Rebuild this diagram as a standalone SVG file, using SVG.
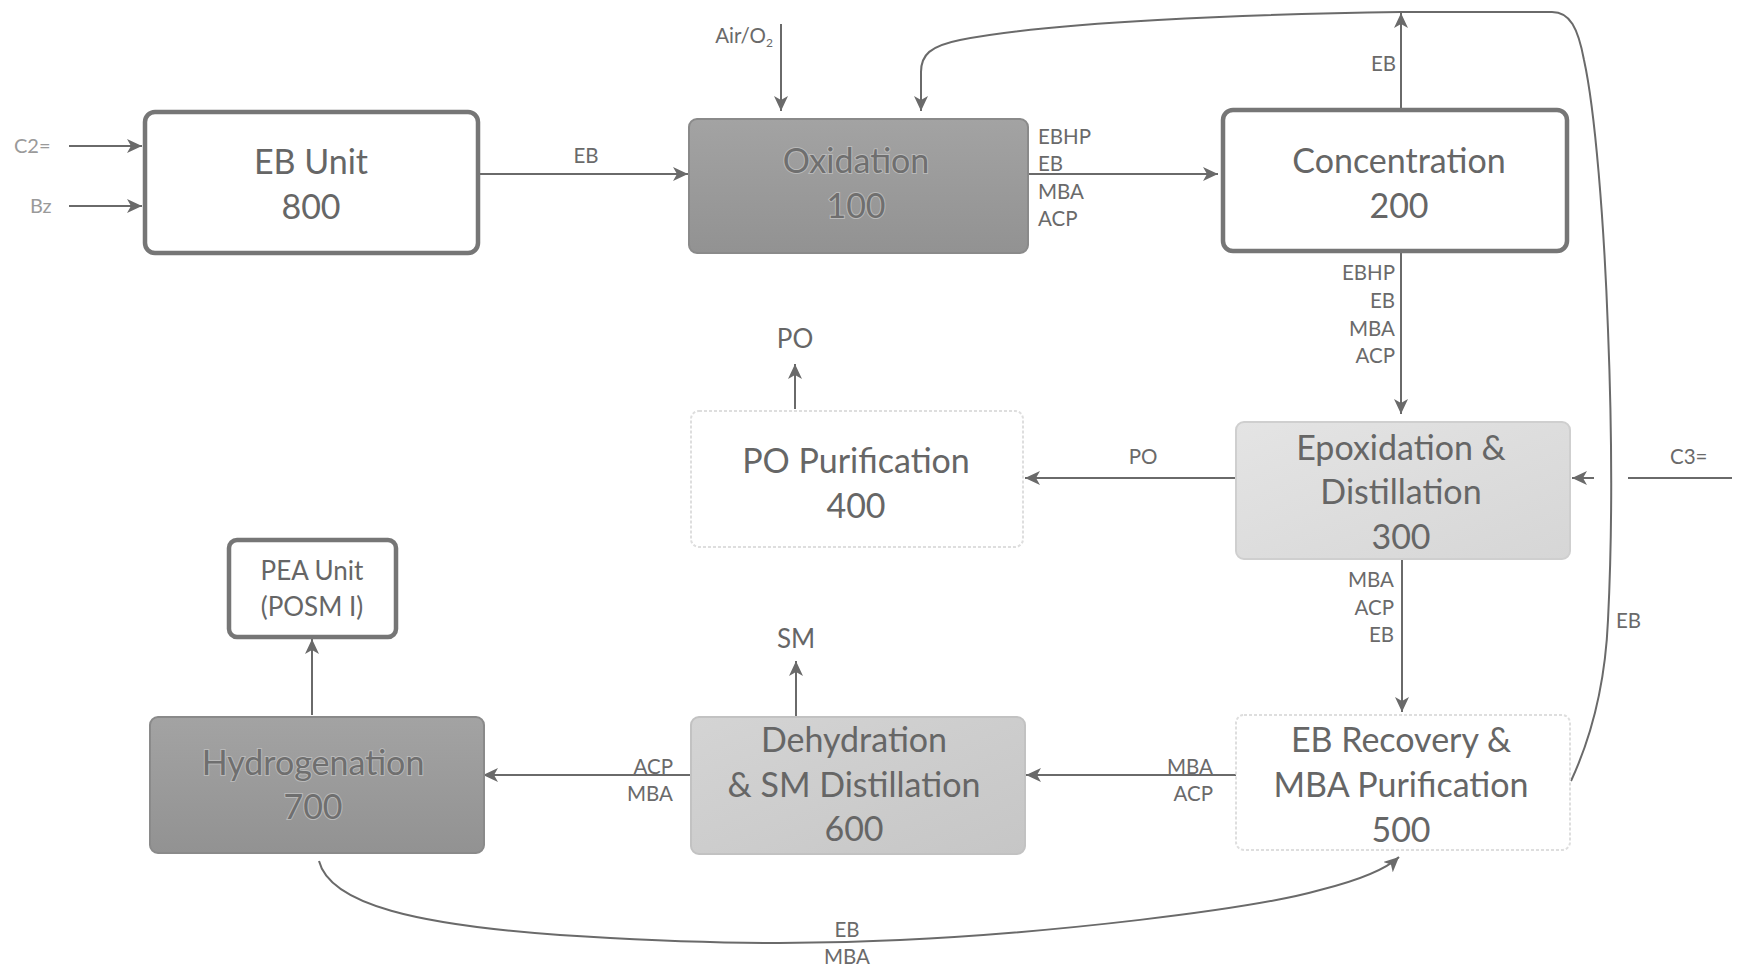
<svg xmlns="http://www.w3.org/2000/svg" width="1743" height="969" viewBox="0 0 1743 969">
<defs>
<marker id="arr" markerUnits="userSpaceOnUse" markerWidth="16" markerHeight="14" refX="15" refY="7" orient="auto">
<path d="M0,0 L15,7 L0,14 L4,7 z" fill="#6a6a6a"/>
</marker>
<linearGradient id="gDark" x1="0" y1="0" x2="0" y2="1">
<stop offset="0" stop-color="#a3a3a3"/><stop offset="1" stop-color="#929292"/>
</linearGradient>
<linearGradient id="gLight" x1="0" y1="0" x2="1" y2="1">
<stop offset="0" stop-color="#e4e4e4"/><stop offset="1" stop-color="#d6d6d6"/>
</linearGradient>
<linearGradient id="gMid" x1="0" y1="0" x2="1" y2="1">
<stop offset="0" stop-color="#d4d4d4"/><stop offset="1" stop-color="#c6c6c6"/>
</linearGradient>
<style>
.bw{fill:#fff;stroke:#767676;stroke-width:4.5}
.bf{fill:#fff;stroke:#dedede;stroke-width:2;stroke-dasharray:3 2}
.bd{fill:url(#gDark);stroke:#8a8a8a;stroke-width:2}
.bl{fill:url(#gLight);stroke:#cfcfcf;stroke-width:2}
.bm{fill:url(#gMid);stroke:#c2c2c2;stroke-width:2}
.t{font-family:Lato,"Open Sans",sans-serif;font-size:34px;fill:#666;text-anchor:middle}
.td{font-family:Lato,"Open Sans",sans-serif;font-size:34px;fill:#6f6f6f;text-anchor:middle;stroke:#b9b9b9;stroke-width:2;paint-order:stroke}
.ts{font-family:Lato,"Open Sans",sans-serif;font-size:26px;fill:#666;text-anchor:middle}
.l{font-family:Lato,"Open Sans",sans-serif;font-size:20.5px;fill:#6a6a6a}
.lb{font-family:Lato,"Open Sans",sans-serif;font-size:26px;fill:#666;text-anchor:middle}
.lf{font-family:Lato,"Open Sans",sans-serif;font-size:20px;fill:#9a9a9a}
.e{text-anchor:end}
.m{text-anchor:middle}
.c{fill:none;stroke:#6a6a6a;stroke-width:2}
.ca{fill:none;stroke:#6a6a6a;stroke-width:2;marker-end:url(#arr)}
</style>
</defs>
<rect width="1743" height="969" fill="#fff"/>

<g id="connectors">
<line class="ca" x1="69" y1="146" x2="142" y2="146"/>
<line class="ca" x1="69" y1="206" x2="142" y2="206"/>
<line class="ca" x1="478" y1="174" x2="688" y2="174"/>
<line class="ca" x1="781" y1="24" x2="781" y2="111"/>
<line class="ca" x1="1028" y1="174" x2="1218" y2="174"/>
<line class="ca" x1="1401" y1="109" x2="1401" y2="13"/>
<path class="c" d="M1571,781 C1590,740 1605,690 1608,620 C1612,540 1612,430 1608,330 C1604,220 1595,110 1584,60 C1578,28 1570,12 1552,12 L1401,12"/>
<path class="ca" d="M1401,12 C1250,14 1050,22 960,40 C930,46 921,55 921,72 L921,111"/>
<line class="ca" x1="1401" y1="251" x2="1401" y2="414"/>
<line class="c" x1="1732" y1="478" x2="1628" y2="478"/>
<line class="ca" x1="1594" y1="478" x2="1572" y2="478"/>
<line class="ca" x1="1236" y1="478" x2="1025" y2="478"/>
<line class="ca" x1="795" y1="409" x2="795" y2="364"/>
<line class="ca" x1="1402" y1="559" x2="1402" y2="712"/>
<line class="ca" x1="1236" y1="775" x2="1026" y2="775"/>
<line class="ca" x1="796" y1="717" x2="796" y2="661"/>
<line class="ca" x1="691" y1="775" x2="483" y2="775"/>
<line class="ca" x1="312" y1="715" x2="312" y2="639"/>
<path class="ca" d="M319,861 C330,905 420,925 560,935 C700,944 800,945 900,940 C1050,933 1250,910 1320,890 C1360,880 1385,870 1399,857"/>
</g>

<g id="n800">
<rect class="bw" x="145" y="112" width="333" height="141" rx="10"/>
<text class="t" x="311" y="174">EB Unit</text>
<text class="t" x="311" y="219">800</text>
</g>
<g id="n100">
<rect class="bd" x="689" y="119" width="339" height="134" rx="8"/>
<text class="td" x="856" y="173">Oxidation</text>
<text class="td" x="856" y="218">100</text>
</g>
<g id="n200">
<rect class="bw" x="1223" y="110" width="344" height="141" rx="10"/>
<text class="t" x="1399" y="173">Concentration</text>
<text class="t" x="1399" y="218">200</text>
</g>
<g id="n300">
<rect class="bl" x="1236" y="422" width="334" height="137" rx="8"/>
<text class="t" x="1401" y="460">Epoxidation &amp;</text>
<text class="t" x="1401" y="504">Distillation</text>
<text class="t" x="1401" y="549">300</text>
</g>
<g id="n400">
<rect class="bf" x="691" y="411" width="332" height="136" rx="8"/>
<text class="t" x="856" y="473">PO Purification</text>
<text class="t" x="856" y="518">400</text>
</g>
<g id="n500">
<rect class="bf" x="1236" y="715" width="334" height="135" rx="8"/>
<text class="t" x="1401" y="752">EB Recovery &amp;</text>
<text class="t" x="1401" y="797">MBA Purification</text>
<text class="t" x="1401" y="842">500</text>
</g>
<g id="n600">
<rect class="bm" x="691" y="717" width="334" height="137" rx="8"/>
<text class="t" x="854" y="752">Dehydration</text>
<text class="t" x="854" y="797">&amp; SM Distillation</text>
<text class="t" x="854" y="841">600</text>
</g>
<g id="n700">
<rect class="bd" x="150" y="717" width="334" height="136" rx="8"/>
<text class="td" x="313" y="775">Hydrogenation</text>
<text class="td" x="313" y="819">700</text>
</g>
<g id="nPEA">
<rect class="bw" x="229" y="540" width="167" height="97" rx="8"/>
<text class="ts" x="312" y="580">PEA Unit</text>
<text class="ts" x="312" y="616">(POSM I)</text>
</g>

<g id="labels">
<text class="lf" x="14" y="153">C2=</text>
<text class="lf" x="30" y="213">Bz</text>
<text class="l m" x="586" y="163">EB</text>
<text class="l e" x="773" y="43">Air/O<tspan style="font-size:12px" dy="4">2</tspan></text>
<text class="l" x="1038" y="144">EBHP</text>
<text class="l" x="1038" y="171">EB</text>
<text class="l" x="1038" y="199">MBA</text>
<text class="l" x="1038" y="226">ACP</text>
<text class="l e" x="1396" y="71">EB</text>
<text class="l e" x="1395" y="280">EBHP</text>
<text class="l e" x="1395" y="308">EB</text>
<text class="l e" x="1395" y="336">MBA</text>
<text class="l e" x="1395" y="363">ACP</text>
<text class="l m" x="1143" y="464">PO</text>
<text class="lb" x="795" y="348">PO</text>
<text class="l" x="1670" y="464">C3=</text>
<text class="l e" x="1394" y="587">MBA</text>
<text class="l e" x="1394" y="615">ACP</text>
<text class="l e" x="1394" y="642">EB</text>
<text class="l" x="1616" y="628">EB</text>
<text class="l e" x="1213" y="774">MBA</text>
<text class="l e" x="1213" y="801">ACP</text>
<text class="lb" x="796" y="648">SM</text>
<text class="l e" x="673" y="774">ACP</text>
<text class="l e" x="673" y="801">MBA</text>
<text class="l m" x="847" y="937">EB</text>
<text class="l m" x="847" y="964">MBA</text>
</g>
</svg>
